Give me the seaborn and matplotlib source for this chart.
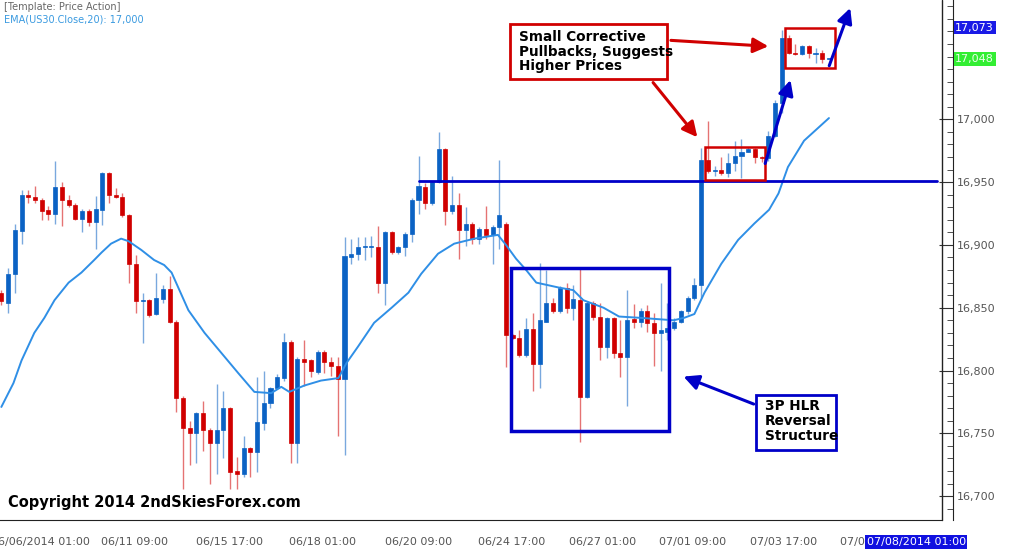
import numpy as np
import pandas as pd
import seaborn as sns
import matplotlib
matplotlib.use("Agg")
import matplotlib.pyplot as plt
import matplotlib.transforms as mtransforms
from matplotlib.patches import Rectangle

# ---- OHLC data (4-hour bars, US30) ----
opens = [16862,16854,16877,16911,16940,16938,16936,16928,16925,16946,16936,16932,16921,16927,16918,16928,16957,16940,16938,16924,
         16885,16855,16856,16845,16857,16865,16839,16778,16754,16750,16766,16753,16742,16753,16770,16720,16718,16738,16735,16758,
         16774,16786,16794,16823,16742,16809,16808,16799,16815,16807,16804,16793,16890,16893,16898,16898,16898,16870,16910,16894,
         16898,16909,16936,16946,16933,16950,16976,16927,16932,16912,16917,16905,16913,16908,16914,16917,16828,16826,16812,16833,
         16805,16839,16854,16847,16866,16850,16856,16779,16854,16843,16819,16842,16814,16811,16841,16839,16847,16838,16830,16831,
         16834,16839,16847,16858,16868,16968,16959,16960,16957,16965,16971,16974,16976,16970,16969,16987,17013,17065,17053,17052,
         17058,17052,17053,17048]
highs = [16864,16882,16917,16944,16944,16947,16937,16931,16967,16950,16940,16933,16929,16929,16939,16958,16958,16945,16941,16925,
         16892,16862,16857,16878,16868,16875,16840,16780,16760,16767,16776,16754,16789,16784,16771,16731,16748,16739,16795,16800,
         16787,16797,16830,16824,16811,16824,16809,16816,16816,16811,16811,16906,16905,16906,16906,16907,16915,16911,16911,16899,
         16910,16937,16971,16949,16951,16990,16977,16955,16941,16930,16918,16914,16931,16916,16968,16918,16829,16832,16842,16846,
         16886,16880,16858,16867,16870,16868,16882,16855,16855,16854,16843,16843,16840,16864,16853,16850,16852,16846,16870,16854,
         16842,16848,16859,16874,16977,16999,16963,16970,16973,16983,16984,16978,16977,16971,16991,17015,17071,17067,17060,17059,
         17059,17057,17055,17048]
lows = [16852,16846,16862,16901,16933,16933,16920,16920,16917,16915,16930,16920,16910,16915,16897,16916,16933,16937,16922,16870,
        16846,16822,16843,16844,16854,16838,16767,16706,16725,16726,16736,16710,16718,16730,16706,16706,16715,16715,16719,16753,
        16770,16785,16792,16726,16726,16788,16795,16797,16798,16796,16748,16733,16885,16888,16888,16890,16862,16852,16893,16893,
        16891,16902,16925,16929,16932,16949,16916,16925,16889,16899,16901,16901,16905,16885,16897,16803,16825,16811,16811,16784,
        16786,16839,16846,16846,16846,16840,16743,16778,16840,16808,16810,16810,16795,16772,16834,16835,16831,16804,16800,16824,
        16832,16838,16845,16856,16858,16957,16955,16956,16954,16959,16953,16974,16965,16966,16967,16986,17005,17052,17051,17051,
        17049,17045,17045,17048]
closes = [16855,16877,16912,16940,16938,16936,16927,16925,16946,16936,16932,16921,16927,16918,16929,16957,16940,16938,16924,16885,
          16855,16856,16844,16858,16865,16839,16778,16754,16750,16766,16753,16742,16753,16770,16719,16718,16738,16735,16759,16774,
          16786,16795,16823,16742,16809,16807,16800,16815,16807,16804,16793,16891,16893,16898,16898.5,16898,16870,16910,16894,16898,
          16909,16936,16947,16933,16950,16976,16927,16932,16912,16917,16905,16913,16908,16914,16924,16828,16826,16812,16833,16805,
          16840,16854,16847,16866,16850,16857,16779,16854,16843,16819,16842,16814,16811,16840,16839,16847,16838,16830,16832,16834,
          16839,16847,16858,16868,16968,16959,16960,16957,16965,16971,16974,16976,16970,16969,16987,17013,17065,17053,17052,17058,
          17053,17053,17048,17048]

# EMA(20) readings (bar index, value)
ema_idx = [0,1.8,3.0,4.9,6.4,7.9,10,11.9,13.8,14.9,16.3,17.8,18.9,20.8,22.7,24.2,25.3,27.8,30.2,32.7,35.2,37.6,40.1,41.6,42.8,45,
           47.5,50.1,51.3,53,55.4,58,60.5,62.4,64.9,67.3,70.3,73.8,75,76.5,78,79.5,82.9,85,86.5,89.5,91.8,94.8,99.9,101.5,103,104.5,
           107,109.5,111.9,114.1,115.5,116.9,119.3,123]
ema_val = [16771,16790,16808,16830,16842,16856,16870,16878,16888,16894,16901,16905,16903,16896,16888,16884,16878,16848,16830,16814,
           16798,16783,16782,16787,16783,16788,16792,16794,16806,16819,16838,16850,16862,16877,16893,16901,16905,16908,16900,16889,
           16880,16870,16866,16864,16856,16850,16843,16842,16840,16842,16845,16862,16885,16904,16917,16928,16941,16962,16983,17001]

tick_pos = [5.8,19.8,33.9,47.8,62.0,75.8,89.3,102.8,116.3,129.7]
tick_labels = ["06/06/2014 01:00","06/11 09:00","06/15 17:00","06/18 01:00","06/20 09:00",
               "06/24 17:00","06/27 01:00","07/01 09:00","07/03 17:00","07/08 01:00"]
y_ticks = [16700,16750,16800,16850,16900,16950,17000]

BLUE = "#0B62C4"
RED = "#D00000"

sns.set_style("white")
plt.rcParams['font.family'] = ['Verdana', 'DejaVu Sans']

fig = plt.figure(figsize=(10.24, 5.57), dpi=100)
ax = fig.add_axes([0, 37/557, 942/1024, 520/557])

df = pd.DataFrame({"o": opens, "h": highs, "l": lows, "c": closes})
df["i"] = np.arange(len(df))
up = df["c"] >= df["o"]
colors = np.where(up, BLUE, RED)
ax.vlines(df["i"], df["l"], df["h"], colors=colors, lw=1, alpha=0.55, zorder=2)
bottom = np.minimum(df["o"], df["c"])
height = np.maximum(np.abs(df["c"] - df["o"]), 1.0)
ax.bar(df["i"], height, bottom=bottom, width=0.6, color=colors, edgecolor=colors, lw=0.5, zorder=3)

ema = pd.DataFrame({"i": ema_idx, "v": ema_val})
sns.lineplot(data=ema, x="i", y="v", ax=ax, color="#2F8FE6", lw=1.4, zorder=4)

ax.set_xlim(-0.2, 139.8)
ax.set_ylim(16681, 17095)
ax.set_xlabel("")
ax.set_ylabel("")

# horizontal level
ax.plot([62, 139], [16950.6, 16950.6], color="#0000C8", lw=2, zorder=5)

# boxes
ax.add_patch(Rectangle((75.8, 16752), 23.5, 129.5, fill=False, ec="#0000C8", lw=2.5, zorder=6))
ax.add_patch(Rectangle((104.6, 16952), 8.9, 26, fill=False, ec="#D00000", lw=1.8, zorder=6))
ax.add_patch(Rectangle((116.5, 17041), 7.4, 32, fill=False, ec="#D00000", lw=1.8, zorder=6))

# text boxes
ax.add_patch(Rectangle((75.6, 17032), 23.4, 43.6, fc="white", ec="#D00000", lw=2, zorder=7))
ax.text(77, 17071, "Small Corrective\nPullbacks, Suggests\nHigher Prices", fontsize=9.8, fontweight="bold",
        va="top", ha="left", family=["DejaVu Sans"], color="black", linespacing=1.05, zorder=8)
ax.add_patch(Rectangle((112.2, 16736.7), 11.8, 43.8, fc="white", ec="#0000C8", lw=2, zorder=7))
ax.text(113.5, 16777, "3P HLR\nReversal\nStructure", fontsize=9.8, fontweight="bold",
        va="top", ha="left", family=["DejaVu Sans"], color="black", linespacing=1.05, zorder=8)

# arrows
arw = dict(arrowstyle="-|>,head_width=0.45,head_length=0.9", lw=2.2)
ax.annotate("", xy=(114.4, 17058), xytext=(99.1, 17063), arrowprops=dict(color="#D00000", **arw), zorder=9)
ax.annotate("", xy=(103.7, 16984), xytext=(96.6, 17031), arrowprops=dict(color="#D00000", **arw), zorder=9)
ax.annotate("", xy=(101, 16796), xytext=(112.2, 16772.5), arrowprops=dict(color="#0000C8", **arw), zorder=9)
ax.annotate("", xy=(117.4, 17033.4), xytext=(113.4, 16962.7), arrowprops=dict(color="#0000C8", **arw), zorder=9)
ax.annotate("", xy=(126.3, 17090.7), xytext=(122.9, 17040.6), arrowprops=dict(color="#0000C8", **arw), zorder=9)

# spines / ticks
for s in ["top", "left"]:
    ax.spines[s].set_visible(False)
ax.spines["bottom"].set_color("#222222")
ax.spines["right"].set_color("#222222")
ax.spines["right"].set_position(("outward", 8))
ax.plot([1, 1], [0, 1], transform=ax.transAxes, color="#222222", lw=1, clip_on=False)
ax.yaxis.tick_right()
ax.set_yticks(y_ticks)
ax.set_yticklabels([f"{v:,}" for v in y_ticks], fontsize=8, color="#555555")
ax.set_yticks(np.arange(16690, 17095, 10), minor=True)
ax.tick_params(axis="y", which="major", direction="in", length=10, color="#333333", pad=3)
ax.tick_params(axis="y", which="minor", direction="in", length=4, color="#333333")
ax.set_xticks(tick_pos)
ax.set_xticklabels(tick_labels, fontsize=8, color="#555555")
ax.set_xticks(np.arange(5.8 - 13.5, 140, 13.5 / 8), minor=True)
ax.tick_params(axis="x", which="major", direction="out", length=10, color="#333333", pad=2)
ax.tick_params(axis="x", which="minor", direction="out", length=4, color="#333333")
ax.set_xlim(-0.2, 139.8)

# price tags
tr = mtransforms.blended_transform_factory(ax.transAxes, ax.transData)
ax.text(1.014, 17073, "17,073", transform=tr, fontsize=8, color="white", va="center", ha="left",
        bbox=dict(boxstyle="square,pad=0.15", fc="#1A1AE6", ec="none"), clip_on=False)
ax.text(1.014, 17048, "17,048", transform=tr, fontsize=8, color="#E8FFE8", va="center", ha="left",
        bbox=dict(boxstyle="square,pad=0.15", fc="#33EE33", ec="none"), clip_on=False)
trx = mtransforms.blended_transform_factory(ax.transData, ax.transAxes)
ax.text(128.6, -0.042, "07/08/2014 01:00", transform=trx, fontsize=8, color="white", va="center", ha="left",
        bbox=dict(boxstyle="square,pad=0.15", fc="#1010E0", ec="none"), clip_on=False)

fig.text(4/1024, 1 - 2/557, "[Template: Price Action]", fontsize=7, color="#666666", va="top")
fig.text(4/1024, 1 - 15/557, "EMA(US30.Close,20): 17,000", fontsize=7, color="#3A9AE0", va="top")
ax.text(8/942, 17/520, "Copyright 2014 2ndSkiesForex.com", transform=ax.transAxes, fontsize=10.5,
        fontweight="bold", family=["DejaVu Sans"], color="black", va="center", ha="left")

fig.savefig("out.png", dpi=100)
